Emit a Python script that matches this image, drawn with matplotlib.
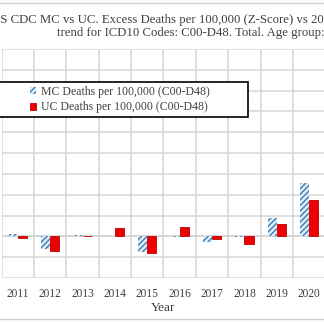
import numpy as np
import matplotlib
matplotlib.use("Agg")
import matplotlib.pyplot as plt
from matplotlib.patches import Patch, Rectangle
from matplotlib.lines import Line2D

plt.rcParams['font.family'] = ['Liberation Serif', 'DejaVu Serif']

# data (Z-score, one gridline = 1)
years = ['2011', '2012', '2013', '2014', '2015', '2016', '2017', '2018', '2019', '2020']
mc_deaths = [0.12, -0.62, 0.08, 0.0, -0.75, -0.03, -0.25, -0.04, 0.87, 2.55]
uc_deaths = [-0.06, -0.68, 0.01, 0.38, -0.82, 0.45, -0.15, -0.36, 0.59, 1.75]
mc_label = 'MC Deaths per 100,000 (C00-D48)'
uc_label = 'UC Deaths per 100,000 (C00-D48)'
title_1 = 'US CDC MC vs UC. Excess Deaths per 100,000 (Z-Score) vs 2010-2019 linear'
title_2 = 'trend for ICD10 Codes: C00-D48. Total. Age group: 15-44 years'

txt = '#404040'
grid_c = '#d9d9d9'
blue = '#2e75b6'
light_blue = '#dcebf7'
red = '#ee0000'

W = 324.0
fig = plt.figure(figsize=(3.24, 3.24), dpi=100)
# axes is wider than the picture: y labels sit off the left edge
ax = fig.add_axes([1.5 / W, 1 - 278 / W, 324 / W, (278 - 49) / W])

x = np.arange(len(years))
bw = 0.28
plt.rcParams['hatch.linewidth'] = 0.9
ax.bar(x - bw / 2, mc_deaths, bw, facecolor=light_blue, edgecolor=blue,
       linewidth=0, hatch='//////', zorder=3)
ax.bar(x + bw / 2, uc_deaths, bw, facecolor=red, edgecolor='#c00000',
       linewidth=0.6, zorder=3)

ax.set_xlim(-0.5, len(years) - 0.5)
ax.set_ylim(-2, 9)
ax.set_yticks(np.arange(-2, 10, 1))
ax.set_yticklabels([])
ax.set_xticks(x)
ax.set_xticklabels(years, fontsize=8.3, color=txt)
ax.set_xticks(np.arange(-0.5, len(years), 1), minor=True)
ax.tick_params(which='both', length=0, pad=7.5)
ax.grid(True, axis='y', color=grid_c, linewidth=1.2, zorder=0)
ax.grid(True, axis='x', which='minor', color=grid_c, linewidth=1.2, zorder=0)
ax.axhline(0, color='#bdbdbd', linewidth=1.2, zorder=1)
for s in ax.spines.values():
    s.set_visible(False)
ax.set_xlabel('Year', fontsize=9.5, color=txt, labelpad=1)

# title (both lines run past the picture edges, as in the original crop)
fig.text(-9 / W, 1 - 20 / W, title_1, fontsize=9.2, color=txt, va='center', ha='left')
fig.text(57 / W, 1 - 33 / W, title_2, fontsize=9.2, color=txt, va='center', ha='left')

# legend box, wider than its content like the original
fig.add_artist(Rectangle((-20 / W, 1 - 117 / W), 268 / W, 35 / W,
                         transform=fig.transFigure, facecolor='white',
                         edgecolor='black', linewidth=1.2, zorder=4))
handles = [Patch(facecolor=light_blue, edgecolor=blue, linewidth=0, hatch='//////'),
           Patch(facecolor=red, edgecolor='#c00000', linewidth=0.6)]
leg = fig.legend(handles, [mc_label, uc_label], loc='upper left',
                 bbox_to_anchor=(30 / W, 1 - 86 / W), frameon=False,
                 fontsize=8.5, handlelength=0.55, handleheight=0.55,
                 handletextpad=0.35, labelspacing=0.28, borderpad=0, borderaxespad=0)
for t in leg.get_texts():
    t.set_color(txt)
leg.set_zorder(6)

# chart area border lines
fig.add_artist(Line2D([0, 1], [1 - 3 / W, 1 - 3 / W], transform=fig.transFigure,
                      color='#d0d0d0', linewidth=1))
fig.add_artist(Line2D([0, 1], [1 - 319 / W, 1 - 319 / W], transform=fig.transFigure,
                      color='#d0d0d0', linewidth=1))

fig.savefig('out.png', dpi=100)
